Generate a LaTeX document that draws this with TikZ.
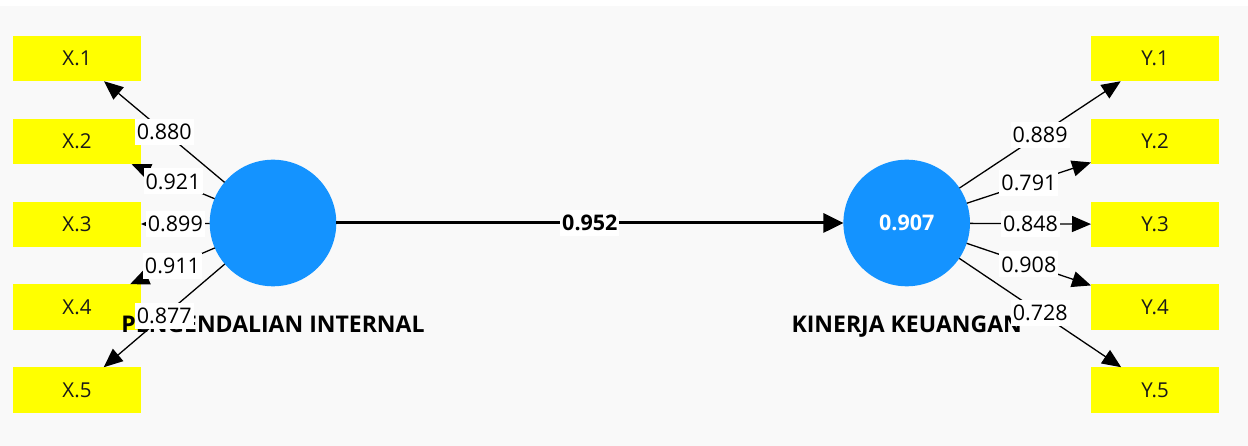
\documentclass[tikz,border=0pt]{standalone}
\usepackage{fontspec}
\setmainfont{Open Sans}
\usetikzlibrary{arrows.meta}
\definecolor{bgc}{HTML}{F9F9F9}
\definecolor{latc}{HTML}{1493FF}
\definecolor{indc}{HTML}{FFFF00}
\begin{document}
\begin{tikzpicture}[x=1pt,y=-1pt,
 ind/.style={rectangle, fill=indc, minimum width=128pt, minimum height=45.5pt, inner sep=0pt, outer sep=0pt, text=black!90, font=\fontsize{20.5}{24}\selectfont},
 lat/.style={circle, fill=latc, minimum size=126.6pt, inner sep=0pt, outer sep=0pt, text=white, font=\fontsize{21.5}{24}\selectfont\bfseries},
 latname/.style={anchor=base, inner sep=0pt, font=\fontsize{23}{26}\selectfont\bfseries},
 load/.style={draw=black, line width=1.3pt, -{Triangle[length=19pt,width=16pt]}},
 pathc/.style={draw=black, line width=3pt, -{Triangle[length=20pt,width=19pt]}},
 lbl/.style={fill=white, inner xsep=2pt, inner ysep=2.3pt, text height=18.4pt, text depth=3pt, font=\fontsize{21.5}{24}\selectfont},
 lblb/.style={lbl, font=\fontsize{21.5}{24}\selectfont\bfseries},
 ]
\useasboundingbox (0,0) rectangle (1248,446);
\fill[bgc] (0,6) rectangle (1248,446);
% indicators
\node[ind] (x1) at (77,58.5) {X.1};
\node[ind] (x2) at (77,141.5) {X.2};
\node[ind] (x3) at (77,224.5) {X.3};
\node[ind] (x4) at (77,307) {X.4};
\node[ind] (x5) at (77,390) {X.5};
\node[ind] (y1) at (1155,58.5) {Y.1};
\node[ind] (y2) at (1155,141.5) {Y.2};
\node[ind] (y3) at (1155,224.5) {Y.3};
\node[ind] (y4) at (1155,307) {Y.4};
\node[ind] (y5) at (1155,390) {Y.5};
% latents
\node[lat] (pi) at (273,223) {};
\node[lat] (kk) at (906.7,223) {0.907};
\node[latname] (piname) at (273,333) {PENGENDALIAN INTERNAL};
\node[latname] (kkname) at (906.7,333) {KINERJA KEUANGAN};
% structural path
\draw[pathc] (pi) -- (kk) node[lblb, midway] {0.952};
% outer loadings
\draw[load] (pi) -- (x1) node[lbl, midway] {0.880};
\draw[load] (pi) -- (x2) node[lbl, midway] {0.921};
\draw[load] (pi) -- (x3) node[lbl, midway] {0.899};
\draw[load] (pi) -- (x4) node[lbl, midway] {0.911};
\draw[load] (pi) -- (x5) node[lbl, midway] {0.877};
\draw[load] (kk) -- (y1) node[lbl, midway] {0.889};
\draw[load] (kk) -- (y2) node[lbl, midway] {0.791};
\draw[load] (kk) -- (y3) node[lbl, midway] {0.848};
\draw[load] (kk) -- (y4) node[lbl, midway] {0.908};
\draw[load] (kk) -- (y5) node[lbl, midway] {0.728};
\end{tikzpicture}
\end{document}
